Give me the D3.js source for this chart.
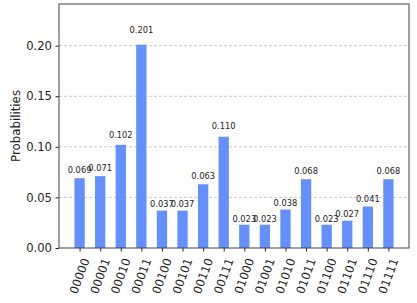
<!DOCTYPE html>
<html>
<head>
<meta charset="utf-8">
<script src="https://cdn.jsdelivr.net/npm/d3@7"></script>
<style>
  body { margin: 0; background: #fff; }
  text { font-family: 'DejaVu Sans', sans-serif; fill: #222; }
</style>
</head>
<body>
<div id="chart"></div>
<script>
let states = ['00000', '00001', '00010', '00011', '00100', '00101', '00110', '00111',
  '01000', '01001', '01010', '01011', '01100', '01101', '01110', '01111']
let probs = [0.069, 0.071, 0.102, 0.201, 0.037, 0.037, 0.063, 0.110,
  0.023, 0.023, 0.038, 0.068, 0.023, 0.027, 0.041, 0.068]
let yTicks = [0, 0.05, 0.10, 0.15, 0.20]

let margin = { top: 4, left: 59, right: 8, bottom: 55 }
let width = 417 - margin.left - margin.right
let height = 303 - margin.top - margin.bottom

let svg = d3.select('#chart')
  .append('svg')
  .attr('width', 417)
  .attr('height', 303)

let holder = svg.append('g')
  .attr('transform', `translate(${margin.left},${margin.top})`)

let xScale = d3.scaleLinear().domain([-1, states.length]).range([0, width])
let yScale = d3.scaleLinear().domain([0, d3.max(probs) * 1.2]).range([height, 0])
let barW = xScale(0.5) - xScale(0)

// grid
holder.selectAll('.grid')
  .data(yTicks.slice(1))
  .enter()
  .append('line')
  .attr('x1', 0)
  .attr('x2', width)
  .attr('y1', d => yScale(d))
  .attr('y2', d => yScale(d))
  .attr('stroke', '#bbb')
  .attr('stroke-width', 0.8)
  .attr('stroke-dasharray', '3,2')

holder.selectAll('.bar')
  .data(probs)
  .enter()
  .append('rect')
  .attr('class', 'bar')
  .attr('x', (d, i) => xScale(i) - barW / 2)
  .attr('y', d => yScale(d))
  .attr('width', barW)
  .attr('height', d => height - yScale(d))
  .attr('fill', '#648fff')

holder.selectAll('.val')
  .data(probs)
  .enter()
  .append('text')
  .attr('x', (d, i) => xScale(i))
  .attr('y', d => yScale(d * 1.05) - 2)
  .attr('text-anchor', 'middle')
  .attr('font-size', '8.3px')
  .text(d => d.toFixed(3))

// y axis
let yAxis = d3.axisLeft(yScale)
  .tickValues(yTicks)
  .tickFormat(d3.format('.2f'))
  .tickSize(3.5)
  .tickPadding(3.5)

holder.append('g')
  .call(yAxis)
  .call(g => g.select('.domain').remove())
  .call(g => g.selectAll('line').attr('stroke', '#222'))
  .call(g => g.selectAll('text').attr('font-size', '11.6px').attr('fill', '#222'))

// x axis ticks
let xAxis = d3.axisBottom(xScale)
  .tickValues(d3.range(states.length))
  .tickFormat('')
  .tickSize(3.5)

holder.append('g')
  .attr('transform', `translate(0,${height})`)
  .call(xAxis)
  .call(g => g.select('.domain').remove())
  .call(g => g.selectAll('line').attr('stroke', '#222'))

holder.selectAll('.xlab')
  .data(states)
  .enter()
  .append('text')
  .attr('transform', (d, i) => `translate(${xScale(i)},${height + 28}) rotate(-70)`)
  .attr('text-anchor', 'middle')
  .attr('dominant-baseline', 'central')
  .attr('font-size', '11.6px')
  .text(d => d)

// frame
holder.append('rect')
  .attr('width', width)
  .attr('height', height)
  .attr('fill', 'none')
  .attr('stroke', '#444')
  .attr('stroke-width', 1)

svg.append('text')
  .attr('transform', `translate(19.5,${margin.top + height / 2}) rotate(-90)`)
  .attr('text-anchor', 'middle')
  .attr('font-size', '11.8px')
  .text('Probabilities')
</script>
</body>
</html>
